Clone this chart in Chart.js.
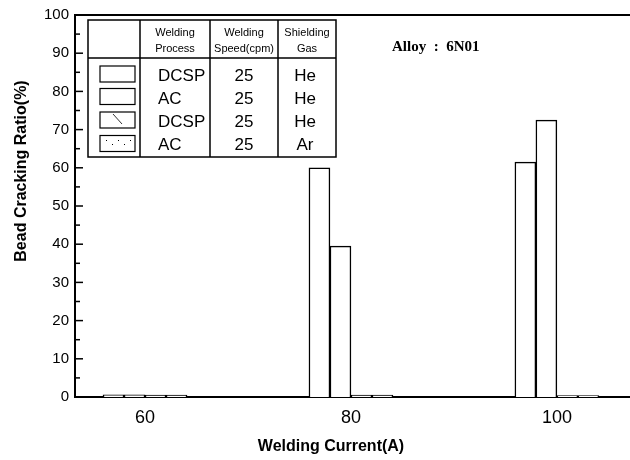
<!DOCTYPE html>
<html>
<head>
<meta charset="utf-8">
<script src="https://cdn.jsdelivr.net/npm/chart.js@4/dist/chart.umd.min.js"></script>
<style>
  body { margin: 0; background: #fff; }
</style>
</head>
<body>
<canvas id="bar-chart" width="630" height="460"></canvas>
<script>
// data
const arus = [60, 80, 100];                 // Welding Current (A)
const dcspHe = [0.6, 60, 61.5];
const acHe = [0.6, 39.5, 72.5];
const dcspHe2 = [0.5, 0.5, 0.4];
const acAr = [0.5, 0.5, 0.4];

const proses = ['DCSP', 'AC', 'DCSP', 'AC'];
const kecepatan = ['25', '25', '25', '25'];
const gas = ['He', 'He', 'He', 'Ar'];
const yTicks = [0, 10, 20, 30, 40, 50, 60, 70, 80, 90, 100];

const semuaSeri = [dcspHe, acHe, dcspHe2, acAr];

// tabel legend + tick ke dalam + judul sumbu
const tabelPlugin = {
    id: 'tabel',
    afterDraw(chart) {
        const ctx = chart.ctx;
        const area = chart.chartArea;
        const y = chart.scales.y;
        ctx.save();
        ctx.strokeStyle = '#000';

        // garis atas
        ctx.lineWidth = 2;
        ctx.beginPath();
        ctx.moveTo(area.left, area.top);
        ctx.lineTo(area.right, area.top);
        ctx.stroke();

        // tick y ke dalam (mayor + minor)
        ctx.lineWidth = 1.5;
        for (let v = 0; v <= 100; v += 5) {
            const py = y.getPixelForValue(v);
            const len = v % 10 === 0 ? 8 : 5;
            ctx.beginPath();
            ctx.moveTo(area.left, py);
            ctx.lineTo(area.left + len, py);
            ctx.stroke();
        }

        // tabel
        const cols = [88, 140, 210, 278, 336];
        const top = 20, head = 58, bottom = 157;
        ctx.lineWidth = 1.5;
        ctx.strokeRect(cols[0], top, cols[4] - cols[0], bottom - top);
        ctx.beginPath();
        ctx.moveTo(cols[0], head); ctx.lineTo(cols[4], head);
        for (let i = 1; i < 4; i++) {
            ctx.moveTo(cols[i], top); ctx.lineTo(cols[i], bottom);
        }
        ctx.stroke();

        ctx.fillStyle = '#000';
        ctx.textAlign = 'center';
        ctx.textBaseline = 'middle';
        ctx.font = '11px "Liberation Sans", Arial, sans-serif';
        const header = [['Welding', 'Process'], ['Welding', 'Speed(cpm)'], ['Shielding', 'Gas']];
        header.forEach((h, i) => {
            const cx = (cols[i + 1] + cols[i + 2]) / 2;
            ctx.fillText(h[0], cx, 33);
            ctx.fillText(h[1], cx, 49);
        });

        const barisY = [76, 99, 122, 145];
        const kotakY = [74, 96.5, 120, 143.5];
        ctx.font = '17px "Liberation Sans", Arial, sans-serif';
        for (let i = 0; i < proses.length; i++) {
            ctx.lineWidth = 1.2;
            ctx.strokeRect(100, kotakY[i] - 8, 35, 16);
            ctx.textAlign = 'left';
            ctx.fillText(proses[i], 158, barisY[i]);
            ctx.textAlign = 'center';
            ctx.fillText(kecepatan[i], 244, barisY[i]);
            ctx.fillText(gas[i], 305, barisY[i]);
        }
        // sedikit arsiran pada kotak ke-3 dan ke-4
        ctx.lineWidth = 0.8;
        ctx.beginPath();
        ctx.moveTo(113, 114); ctx.lineTo(122, 124);
        ctx.stroke();
        for (let k = 0; k < 5; k++) {
            ctx.fillRect(106 + k * 6, 140 + (k % 2) * 4, 1, 1);
        }

        // teks paduan
        ctx.textAlign = 'left';
        ctx.font = 'bold 15px "Liberation Serif", "Times New Roman", serif';
        ctx.fillText('Alloy  :  6N01', 392, 47);

        // judul sumbu
        ctx.font = 'bold 16px "Liberation Sans", Arial, sans-serif';
        ctx.textAlign = 'center';
        ctx.fillText('Welding Current(A)', 331, 447);
        ctx.translate(22, 171);
        ctx.rotate(-Math.PI / 2);
        ctx.fillText('Bead Cracking Ratio(%)', 0, 0);
        ctx.restore();
    }
};

const ctx = document.getElementById('bar-chart').getContext('2d');

const myChart = new Chart(ctx, {
    type: 'bar',
    data: {
        datasets: semuaSeri.map((seri, i) => ({
            label: proses[i] + ' ' + gas[i],
            data: arus.map((a, j) => ({ x: a, y: seri[j] })),
            backgroundColor: 'white',
            borderColor: 'black',
            borderWidth: 1.5,
            barThickness: 21
        }))
    },
    options: {
        responsive: false,
        animation: false,
        layout: { padding: { top: 14, right: 0, left: 0, bottom: 0 } },
        plugins: {
            legend: { display: false },
            tooltip: { enabled: false }
        },
        scales: {
            x: {
                type: 'linear',
                offset: false,
                min: 53.2,
                max: 107.1,
                afterBuildTicks(s) { s.ticks = arus.map(v => ({ value: v })); },
                afterFit(s) { s.height = 63; },
                grid: { display: false, drawTicks: false, offset: false },
                border: { display: true, color: '#000', width: 2 },
                ticks: {
                    color: '#000',
                    padding: 10,
                    font: { family: '"Liberation Sans", Arial, sans-serif', size: 18 }
                }
            },
            y: {
                min: 0,
                max: 100,
                afterBuildTicks(s) { s.ticks = yTicks.map(v => ({ value: v })); },
                afterFit(s) { s.width = 75; },
                grid: { display: false, drawTicks: false },
                border: { display: true, color: '#000', width: 2 },
                ticks: {
                    color: '#000',
                    padding: 6,
                    font: { family: '"Liberation Sans", Arial, sans-serif', size: 15 }
                }
            }
        }
    },
    plugins: [tabelPlugin]
});
</script>
</body>
</html>
